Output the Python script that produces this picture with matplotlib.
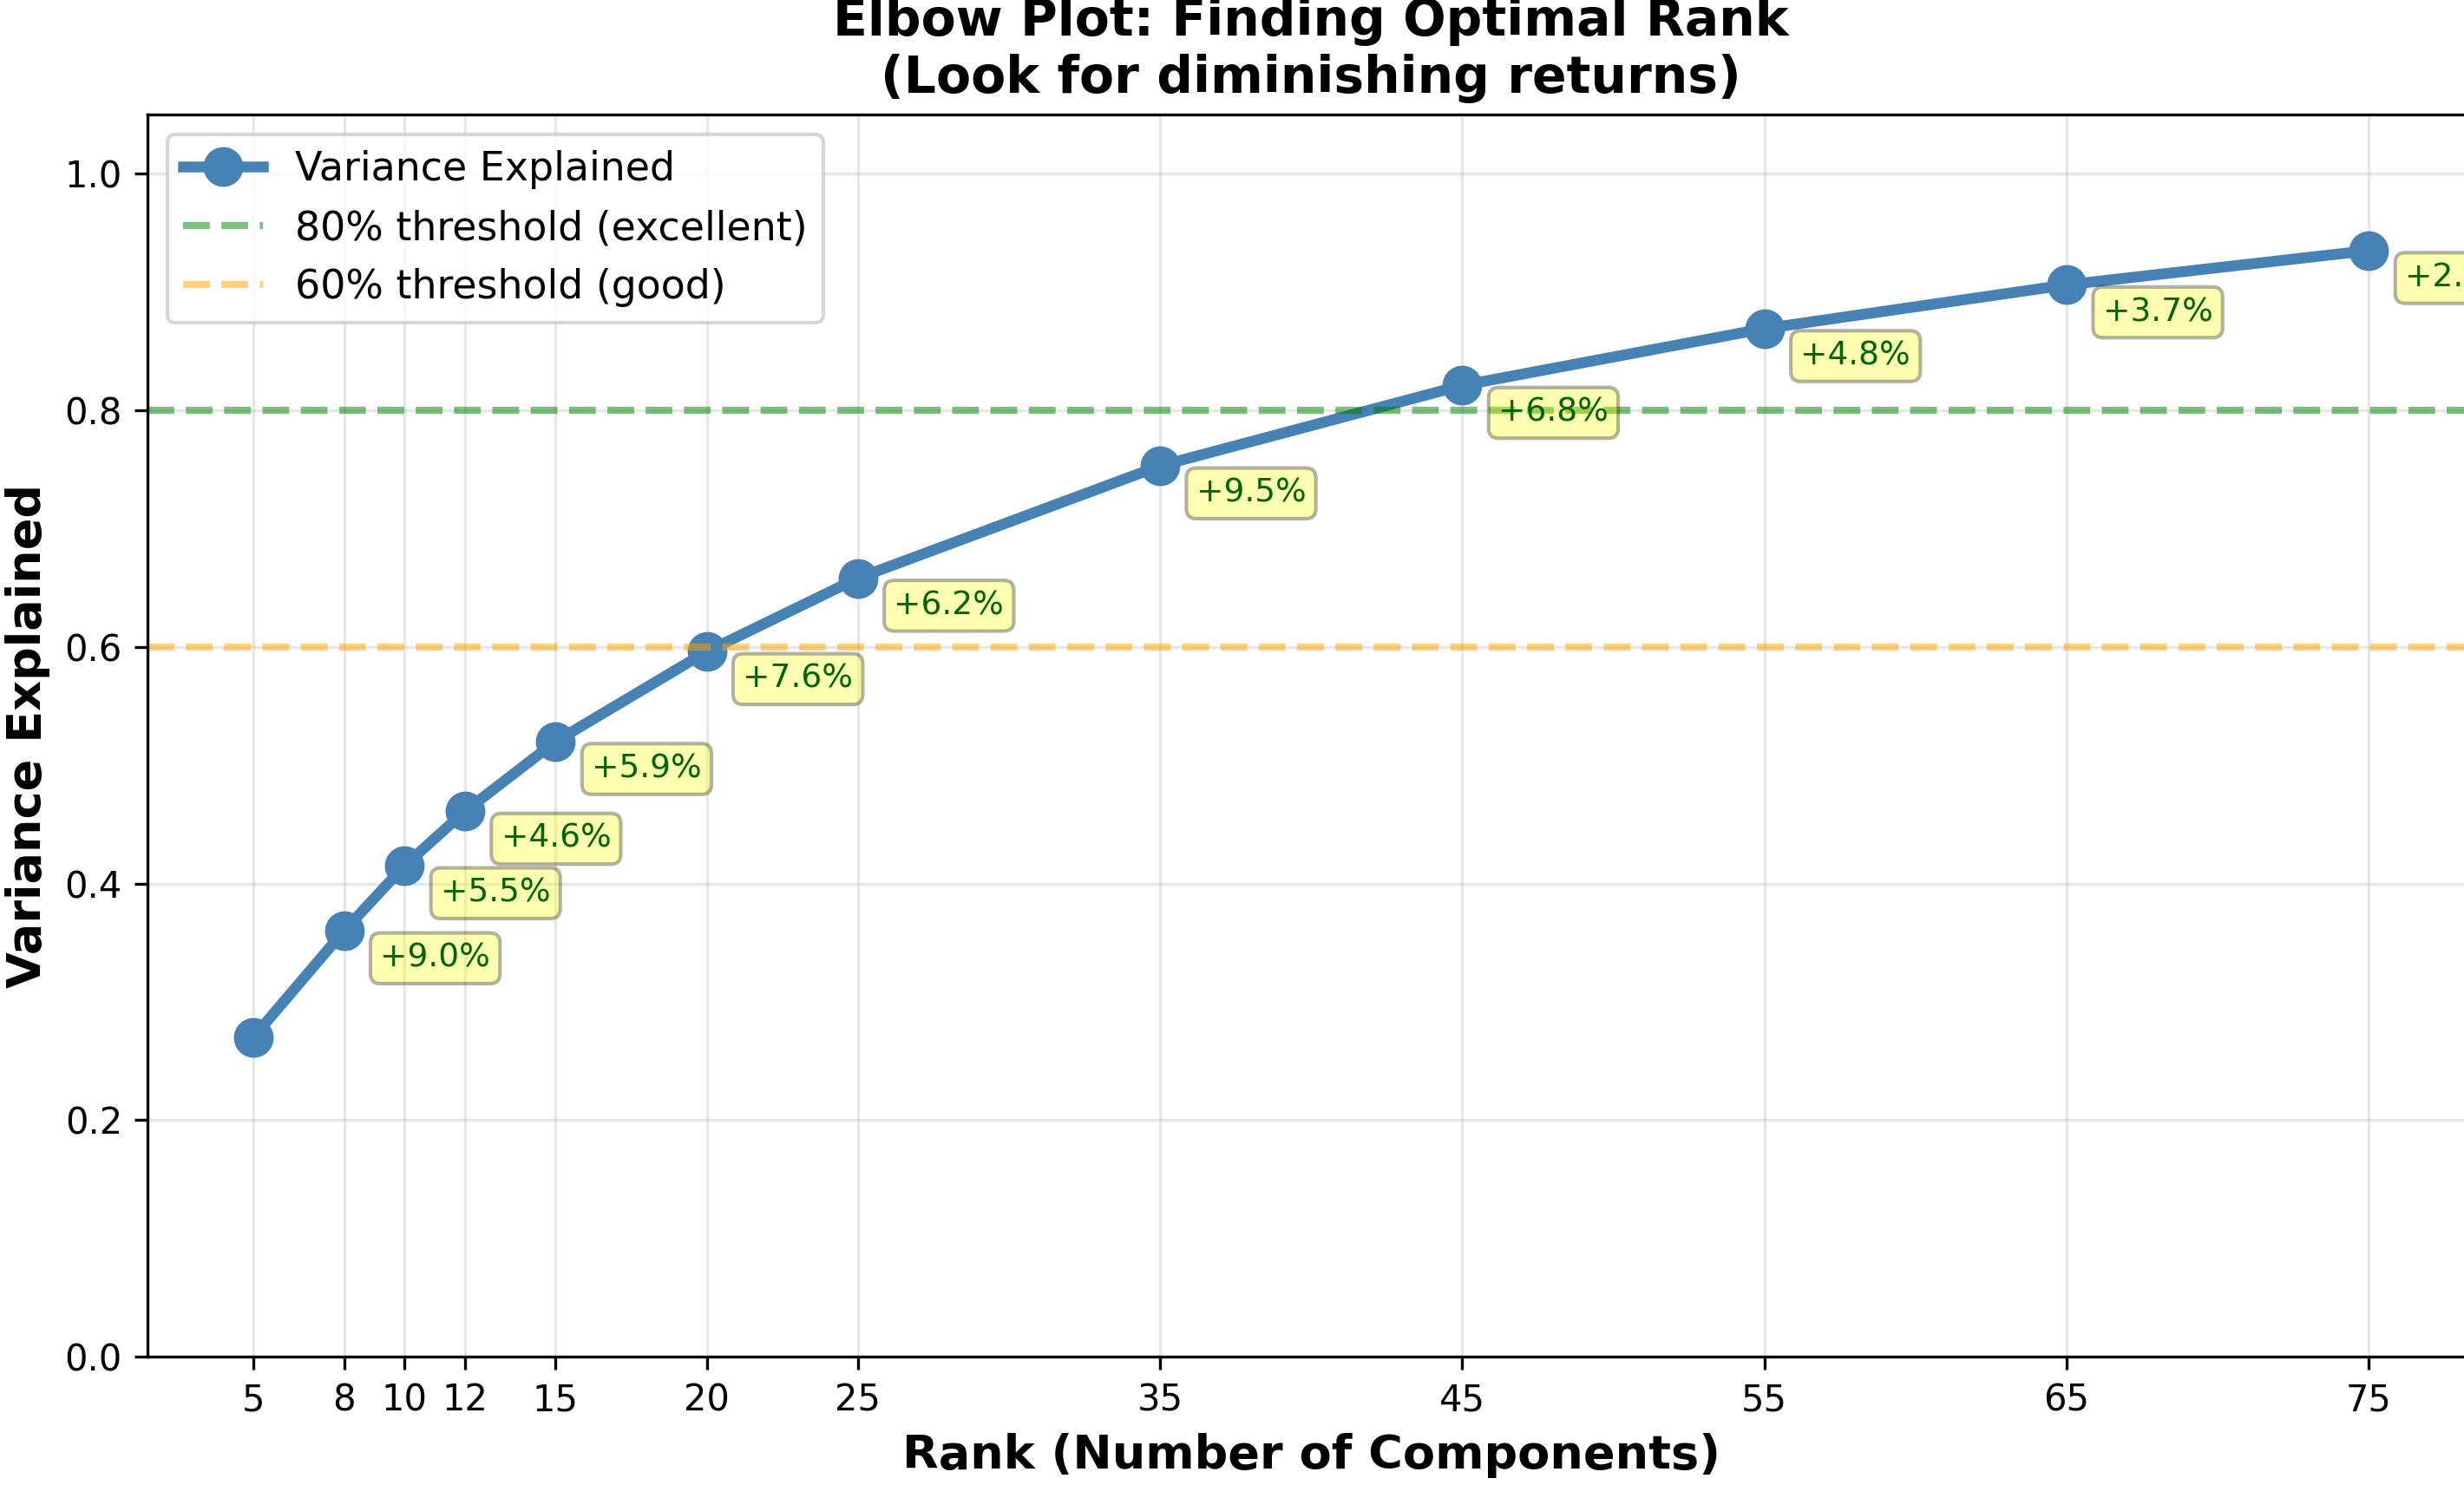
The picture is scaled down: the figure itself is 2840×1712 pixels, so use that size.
import numpy as np
import matplotlib
matplotlib.use("Agg")
import matplotlib.pyplot as plt

# Ranks tried and the cumulative variance explained at each one
ranks = [5, 8, 10, 12, 15, 20, 25, 35, 45, 55, 65, 75]
variance = [0.270, 0.360, 0.415, 0.461, 0.520, 0.596, 0.658, 0.753, 0.821, 0.869, 0.906, 0.935]

# Reference thresholds
thresh_excellent = 0.8
thresh_good = 0.6

fig = plt.figure(figsize=(2840 / 300, 1712 / 300), dpi=300)
ax = fig.add_axes([0.0599, 0.0864, 0.9444, 0.8365])

ax.plot(ranks, variance, 'o-', color='steelblue', linewidth=3, markersize=10,
        label='Variance Explained')
ax.axhline(y=thresh_excellent, color='green', linestyle='--', linewidth=2, alpha=0.5,
           label='80% threshold (excellent)')
ax.axhline(y=thresh_good, color='orange', linestyle='--', linewidth=2, alpha=0.5,
           label='60% threshold (good)')

# Label the gain from the previous rank
gains = np.round(np.diff(variance) * 100, 1)
for r, v, g in zip(ranks[1:], variance[1:], gains):
    ax.annotate(f'+{g:.1f}%', xy=(r, v), xytext=(10, -10), textcoords='offset points',
                fontsize=9, color='darkgreen',
                bbox=dict(boxstyle='round,pad=0.3', facecolor='yellow', alpha=0.3))

ax.set_xlabel('Rank (Number of Components)', fontsize=13, fontweight='bold')
ax.set_ylabel('Variance Explained', fontsize=13, fontweight='bold')
ax.set_title('Elbow Plot: Finding Optimal Rank\n(Look for diminishing returns)',
             fontsize=14, fontweight='bold')
ax.set_xticks(ranks)
ax.set_ylim(0, 1.05)
ax.grid(True, alpha=0.3)
ax.legend(fontsize=11, loc='upper left')

fig.savefig('out.png', dpi=300)
